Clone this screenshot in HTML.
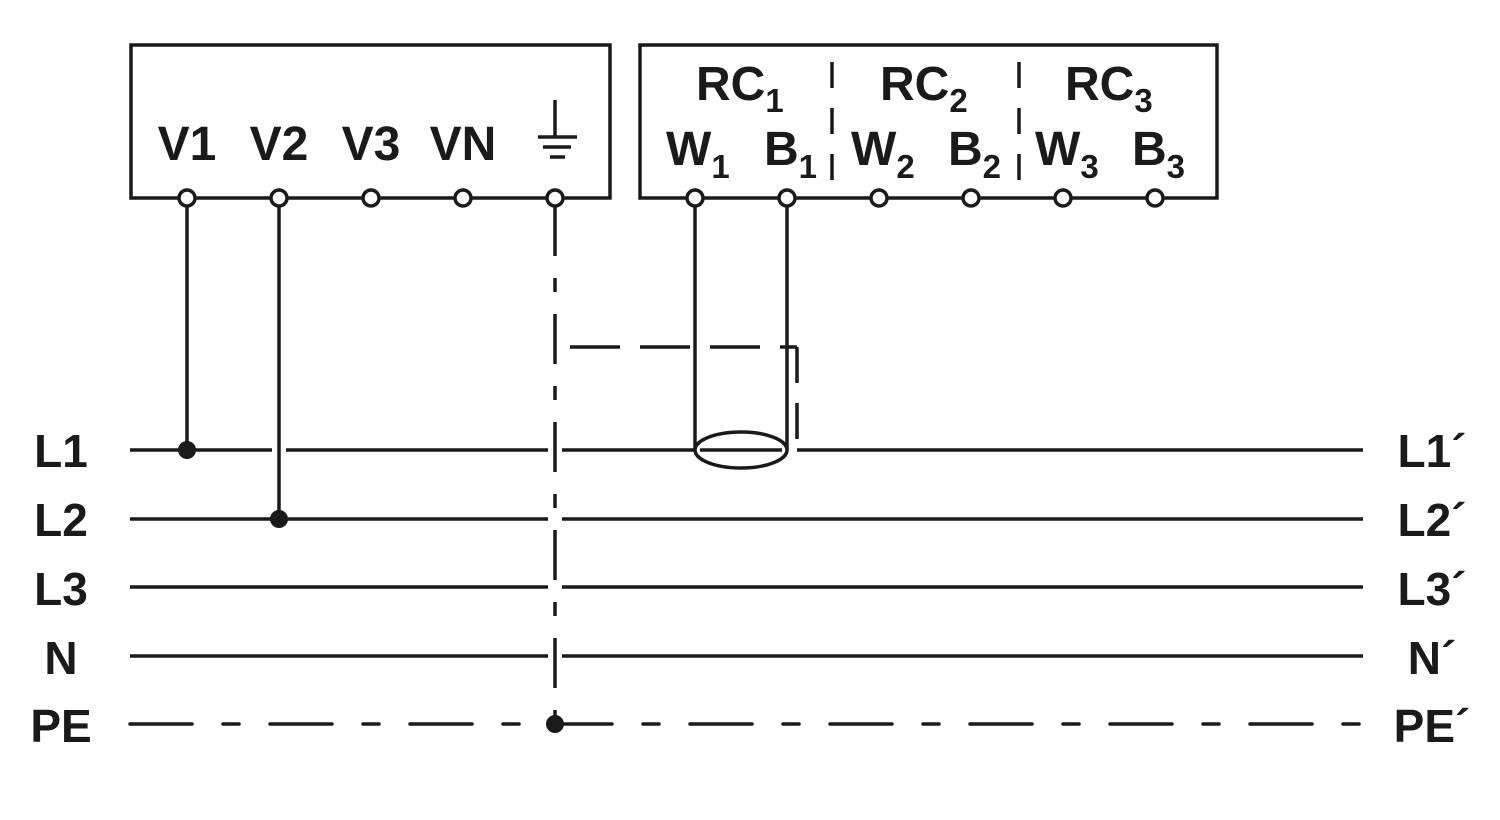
<!DOCTYPE html>
<html><head><style>html,body{margin:0;padding:0;background:#fff}svg{display:block}</style></head><body>
<svg width="1500" height="820" xmlns="http://www.w3.org/2000/svg" font-family="Liberation Sans, Arial, sans-serif" font-weight="bold" fill="#1a1a1a">
<g stroke="#1a1a1a" stroke-width="3.5" fill="none">
<rect x="131" y="45" width="479" height="153"/>
<rect x="640" y="45" width="577" height="153"/>
<line x1="832" y1="62" x2="832" y2="182" stroke-dasharray="26 20"/>
<line x1="1019" y1="62" x2="1019" y2="182" stroke-dasharray="26 20"/>
<!-- ground symbol -->
<line x1="555" y1="100" x2="555" y2="137"/>
<line x1="538" y1="137" x2="577" y2="137"/>
<line x1="543" y1="147" x2="571" y2="147"/>
<line x1="550" y1="157" x2="565" y2="157"/>
<!-- bus lines -->
<line x1="130" y1="450" x2="1363" y2="450"/>
<line x1="130" y1="519" x2="1363" y2="519"/>
<line x1="130" y1="587" x2="1363" y2="587"/>
<line x1="130" y1="656" x2="1363" y2="656"/>
<line x1="130" y1="724" x2="1363" y2="724" stroke-dasharray="62 31 16 31" stroke-linecap="round"/>
<!-- crossing gaps -->
<line x1="279" y1="425" x2="279" y2="480" stroke="#fff" stroke-width="14"/>
<line x1="555" y1="425" x2="555" y2="690" stroke="#fff" stroke-width="14"/>
<!-- V taps -->
<line x1="187" y1="206" x2="187" y2="450"/>
<line x1="279" y1="206" x2="279" y2="519"/>
<!-- earth line -->
<line x1="555" y1="206" x2="555" y2="724" stroke-dasharray="50 22 14 22"/>
<!-- shield dashed -->
<line x1="570" y1="347" x2="797" y2="347" stroke-dasharray="50 20"/>
<line x1="797" y1="347" x2="797" y2="450" stroke-dasharray="36 20"/>
<line x1="787" y1="450" x2="797" y2="450" stroke="#fff" stroke-width="5"/>
<!-- CT cable -->
<line x1="695" y1="206" x2="695" y2="450"/>
<line x1="787" y1="206" x2="787" y2="450"/>
<ellipse cx="741" cy="450" rx="46" ry="18" fill="#fff"/>
<line x1="700" y1="450" x2="782" y2="450"/>
<!-- terminals -->
<g fill="#fff">
<circle cx="187" cy="198" r="8"/><circle cx="279" cy="198" r="8"/><circle cx="371" cy="198" r="8"/><circle cx="463" cy="198" r="8"/><circle cx="555" cy="198" r="8"/>
<circle cx="695" cy="198" r="8"/><circle cx="787" cy="198" r="8"/><circle cx="879" cy="198" r="8"/><circle cx="971" cy="198" r="8"/><circle cx="1063" cy="198" r="8"/><circle cx="1155" cy="198" r="8"/>
</g>
</g>
<circle cx="187" cy="450" r="9"/><circle cx="279" cy="519" r="9"/><circle cx="555" cy="724" r="9"/>
<g font-size="48" text-anchor="middle">
<text x="187" y="160">V1</text><text x="279" y="160">V2</text><text x="371" y="160">V3</text><text x="463" y="160">VN</text>
</g>
<g font-size="48">
<text x="696" y="100">RC<tspan font-size="33" dy="12">1</tspan></text>
<text x="880" y="100">RC<tspan font-size="33" dy="12">2</tspan></text>
<text x="1065" y="100">RC<tspan font-size="33" dy="12">3</tspan></text>
<text x="666" y="165">W<tspan font-size="33" dy="13">1</tspan></text>
<text x="764" y="165">B<tspan font-size="33" dy="13">1</tspan></text>
<text x="851" y="165">W<tspan font-size="33" dy="13">2</tspan></text>
<text x="948" y="165">B<tspan font-size="33" dy="13">2</tspan></text>
<text x="1035" y="165">W<tspan font-size="33" dy="13">3</tspan></text>
<text x="1132" y="165">B<tspan font-size="33" dy="13">3</tspan></text>
</g>
<g font-size="46" text-anchor="middle">
<text x="61" y="467">L1</text><text x="61" y="536">L2</text><text x="61" y="605">L3</text><text x="61" y="674">N</text><text x="61" y="742">PE</text>
</g>
<g font-size="46" text-anchor="middle">
<text x="1432" y="467">L1´</text><text x="1432" y="536">L2´</text><text x="1432" y="605">L3´</text><text x="1432" y="674">N´</text><text x="1432" y="742">PE´</text>
</g>
</svg>
</body></html>
